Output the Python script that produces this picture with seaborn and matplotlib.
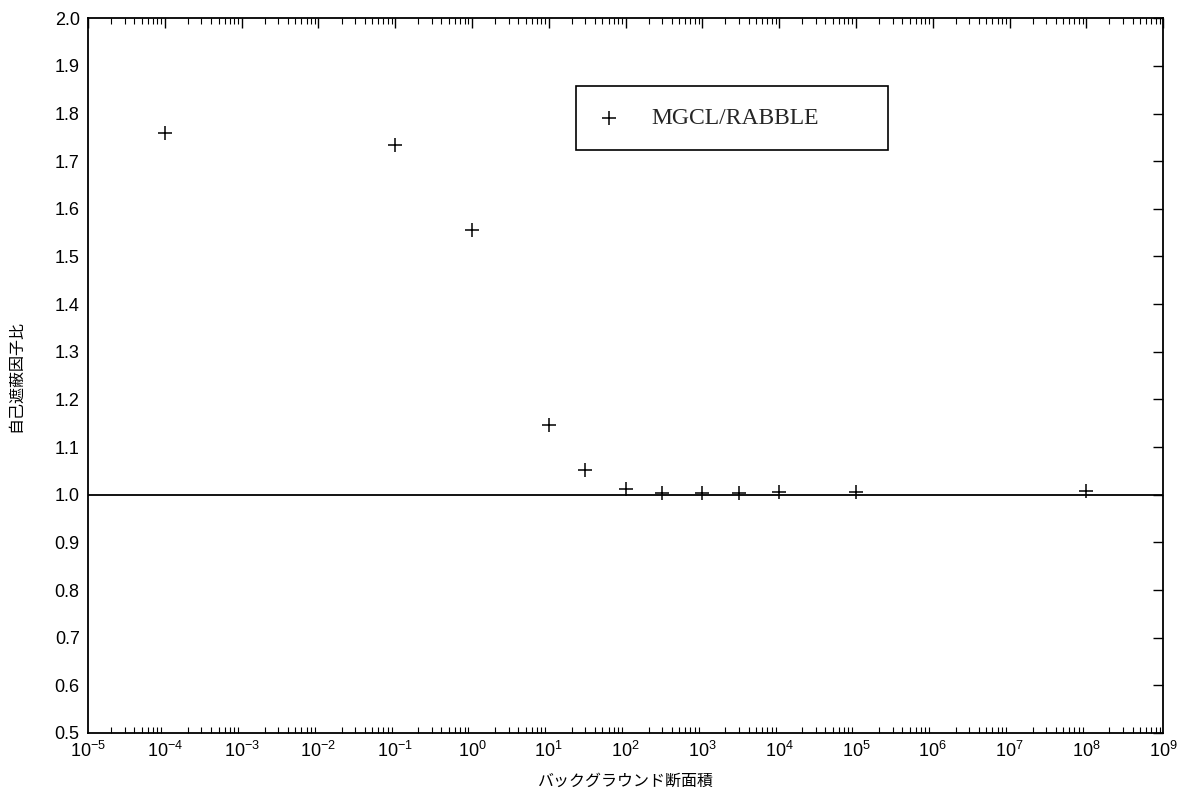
import matplotlib
matplotlib.use("Agg")
import matplotlib.pyplot as plt
import seaborn as sns
import pandas as pd
from matplotlib.ticker import LogLocator, MultipleLocator, FormatStrFormatter, NullLocator, NullFormatter

# Background cross section vs. self-shielding factor ratio
background_xs = [1e-4, 1e-1, 1e0, 1e1, 3e1, 1e2, 3e2, 1e3, 3e3, 1e4, 1e5, 1e8]
shield_ratio = [1.759, 1.733, 1.556, 1.147, 1.051, 1.012, 1.003, 1.004, 1.004, 1.005, 1.005, 1.008]
series_label = "MGCL/RABBLE"
x_label = "バックグラウンド断面積"
y_label = "自己遮蔽因子比"
reference_level = 1.0

sns.set_theme(style="white")
plt.rcParams["font.family"] = ["Liberation Sans", "Noto Sans CJK JP", "DejaVu Sans"]
plt.rcParams["mathtext.default"] = "regular"

df = pd.DataFrame({"bg": background_xs, "ratio": shield_ratio})

fig = plt.figure(figsize=(11.82, 7.92), dpi=100)
ax = fig.add_axes([0.0745, 0.0745, 0.9095, 0.9025])

sns.scatterplot(data=df, x="bg", y="ratio", marker="+", s=90, color="black",
                linewidth=1.1, ax=ax, label=series_label, zorder=3)
ax.axhline(reference_level, color="black", linewidth=1.3, zorder=2)

ax.set_xscale("log")
ax.set_xlim(1e-5, 1e9)
ax.set_ylim(0.5, 2.0)

ax.xaxis.set_major_locator(LogLocator(base=10, numticks=30))
ax.xaxis.set_minor_locator(LogLocator(base=10, subs=range(2, 10), numticks=200))
ax.xaxis.set_minor_formatter(NullFormatter())
ax.yaxis.set_major_locator(MultipleLocator(0.1))
ax.yaxis.set_major_formatter(FormatStrFormatter("%.1f"))
ax.yaxis.set_minor_locator(NullLocator())

ax.tick_params(axis="both", which="major", direction="in", top=True, right=True,
               length=7, width=1.0, color="black", labelsize=13, labelcolor="black", pad=6)
ax.tick_params(axis="x", which="minor", direction="in", top=True, bottom=True,
               length=4, width=0.8, color="black")

for side in ax.spines.values():
    side.set_color("black")
    side.set_linewidth(1.3)

ax.set_xlabel(x_label, fontsize=11.5, color="black", labelpad=8,
              family=["Noto Sans CJK JP", "DejaVu Sans"])
ax.set_ylabel(y_label, fontsize=11.5, color="black", labelpad=22,
              family=["Noto Sans CJK JP", "DejaVu Sans"])

leg = ax.legend(loc="center", bbox_to_anchor=(0.454, 0.818, 0.29, 0.084), mode="expand",
                borderaxespad=0, frameon=True, fancybox=False, edgecolor="black",
                framealpha=1, borderpad=0.9, handletextpad=1.3, handlelength=1.0,
                prop={"family": "Liberation Serif", "size": 17})
leg.get_frame().set_linewidth(1.2)

fig.savefig("out.png", dpi=100)
